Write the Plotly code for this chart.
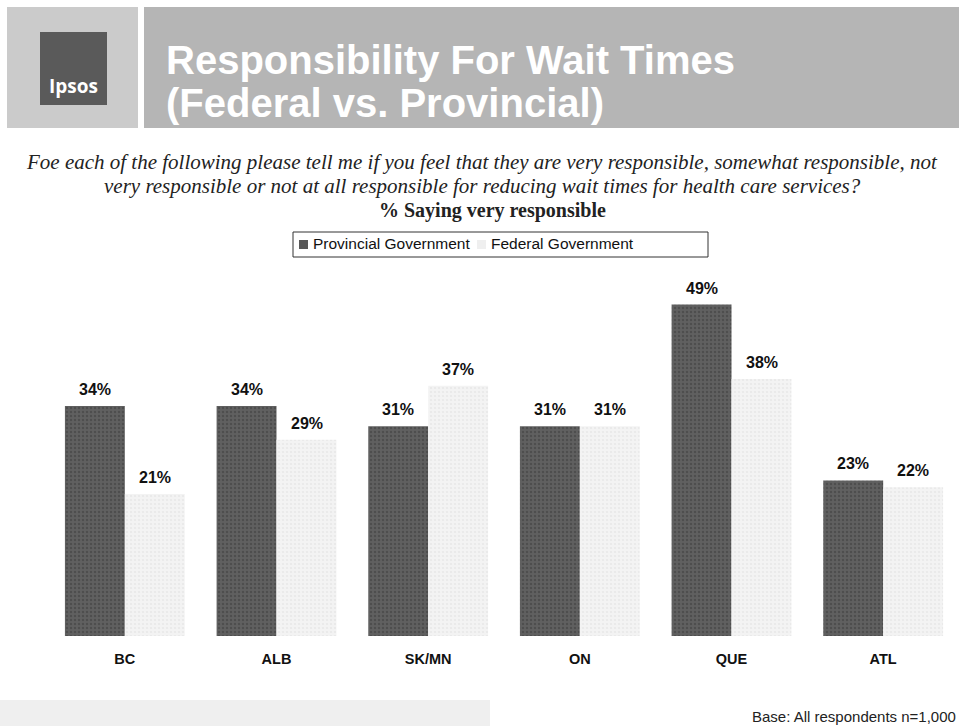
import plotly.graph_objects as go

regions = ["BC", "ALB", "SK/MN", "ON", "QUE", "ATL"]
provincial = [34, 34, 31, 31, 49, 23]
federal = [21, 29, 37, 31, 38, 22]
series_names = ["Provincial Government", "Federal Government"]

W, H = 959, 726
L, R, T, B = 49, 0, 270, 90
PW = W - L - R
PH = H - T - B


def px(x):
    return (x - L) / PW


def py(y):
    return (H - B - y) / PH


prov_color = "#585858"
fed_color = "#efefef"

fig = go.Figure()
fig.add_trace(go.Bar(
    x=regions, y=provincial, name=series_names[0],
    marker=dict(color=prov_color, line=dict(width=0),
                pattern=dict(shape=".", fgcolor="#3c3c3c", bgcolor="#606060", size=4, solidity=0.3)),
    showlegend=False,
))
fig.add_trace(go.Bar(
    x=regions, y=federal, name=series_names[1],
    marker=dict(color=fed_color, line=dict(width=0),
                pattern=dict(shape=".", fgcolor="#e0e0e0", bgcolor="#f3f3f3", size=4, solidity=0.3)),
    showlegend=False,
))

shapes = [
    dict(type="rect", xref="paper", yref="paper", x0=px(7), x1=px(138), y0=py(128), y1=py(7),
         fillcolor="#cbcbcb", line=dict(width=0), layer="below"),
    dict(type="rect", xref="paper", yref="paper", x0=px(144), x1=px(959), y0=py(128), y1=py(7),
         fillcolor="#b5b5b5", line=dict(width=0), layer="below"),
    dict(type="rect", xref="paper", yref="paper", x0=px(40), x1=px(107), y0=py(105), y1=py(32),
         fillcolor="#5a5a5a", line=dict(width=0), layer="below"),
    dict(type="rect", xref="paper", yref="paper", x0=px(0), x1=px(490), y0=py(726), y1=py(700),
         fillcolor="#efefef", line=dict(width=0), layer="below"),
    # legend box
    dict(type="rect", xref="paper", yref="paper", x0=px(293), x1=px(708), y0=py(257), y1=py(232),
         fillcolor="white", line=dict(color="#333333", width=1), layer="below"),
    dict(type="rect", xref="paper", yref="paper", x0=px(299), x1=px(308), y0=py(249), y1=py(240),
         fillcolor=prov_color, line=dict(width=0)),
    dict(type="rect", xref="paper", yref="paper", x0=px(477), x1=px(486), y0=py(249), y1=py(240),
         fillcolor=fed_color, line=dict(width=0)),
]

annotations = [
    dict(text="<b>Ipsos</b>", x=px(73), y=py(86), xref="paper", yref="paper", showarrow=False,
         font=dict(family="Open Sans", size=19, color="white"), xanchor="center", yanchor="middle"),
    dict(text="<b>Responsibility For Wait Times</b>", x=px(164), y=py(60),
         xref="paper", yref="paper", showarrow=False, align="left",
         font=dict(family="Arial", size=40, color="white"), xanchor="left", yanchor="middle"),
    dict(text="<b>(Federal vs. Provincial)</b>", x=px(164), y=py(103),
         xref="paper", yref="paper", showarrow=False, align="left",
         font=dict(family="Arial", size=40, color="white"), xanchor="left", yanchor="middle"),
    dict(text="<i>Foe each of the following please tell me if you feel that they are very responsible, somewhat responsible, not</i>",
         x=px(482), y=py(162), xref="paper", yref="paper", showarrow=False,
         font=dict(family="Liberation Serif", size=21, color="#222222"), xanchor="center", yanchor="middle"),
    dict(text="<i>very responsible or not at all responsible for reducing wait times for health care services?</i>",
         x=px(482), y=py(186), xref="paper", yref="paper", showarrow=False,
         font=dict(family="Liberation Serif", size=21, color="#222222"), xanchor="center", yanchor="middle"),
    dict(text="<b>% Saying very responsible</b>",
         x=px(492), y=py(210), xref="paper", yref="paper", showarrow=False,
         font=dict(family="Liberation Serif", size=20, color="#222222"), xanchor="center", yanchor="middle"),
    dict(text=series_names[0], x=px(311), y=py(244), xref="paper", yref="paper", showarrow=False,
         font=dict(family="Arial", size=15.5, color="#111111"), xanchor="left", yanchor="middle"),
    dict(text=series_names[1], x=px(489), y=py(244), xref="paper", yref="paper", showarrow=False,
         font=dict(family="Arial", size=15.5, color="#111111"), xanchor="left", yanchor="middle"),
    dict(text="Base: All respondents n=1,000", x=px(958), y=py(716), xref="paper", yref="paper",
         showarrow=False, font=dict(family="Arial", size=15, color="#222222"), xanchor="right", yanchor="middle"),
]

for vals, shift in ((provincial, -30), (federal, 30)):
    for cat, v in zip(regions, vals):
        annotations.append(dict(
            text=f"<b>{v}%</b>", x=cat, y=v, xref="x", yref="y", xshift=shift, yshift=6,
            showarrow=False, yanchor="bottom", xanchor="center",
            font=dict(family="Arial", size=16, color="#111111")))

fig.update_layout(
    width=W, height=H,
    margin=dict(l=L, r=R, t=T, b=B),
    paper_bgcolor="white", plot_bgcolor="rgba(0,0,0,0)",
    barmode="group", bargap=0.21, bargroupgap=0,
    shapes=shapes, annotations=annotations,
    showlegend=False,
    xaxis=dict(showline=False, ticks="", ticklabelstandoff=12,
               tickfont=dict(family="Arial", size=14.5, color="#111111"),
               tickprefix="<b>", ticksuffix="</b>"),
    yaxis=dict(range=[0, 54.1], visible=False, showgrid=False),
)

fig.write_html("out.html", config={"displayModeBar": False},
               post_script="document.body.style.margin='0';document.body.style.overflow='hidden';")
